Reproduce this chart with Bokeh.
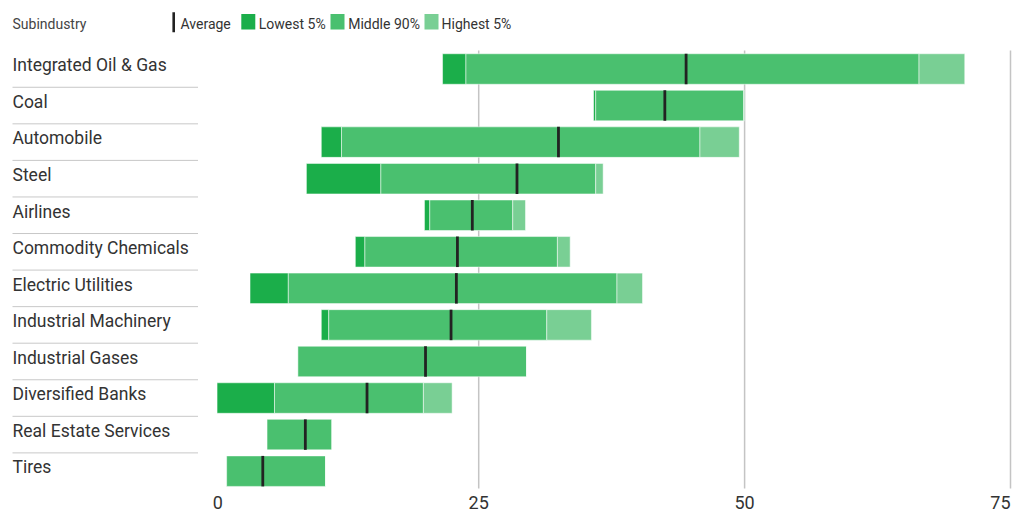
from bokeh.plotting import figure
from bokeh.models import Range1d, ColumnDataSource
from bokeh.core.properties import value
from bokeh.embed import file_html
from bokeh.resources import INLINE

# ---------------- data ----------------
categories = ["Integrated Oil & Gas", "Coal", "Automobile", "Steel", "Airlines",
              "Commodity Chemicals", "Electric Utilities", "Industrial Machinery",
              "Industrial Gases", "Diversified Banks", "Real Estate Services", "Tires"]
low_start = [21.6, 35.8, 10.2, 8.8, 19.9, 13.4, 3.5, 10.2, 8.0, 0.4, 5.1, 1.3]
low_end   = [23.8, 36.0, 12.1, 15.8, 20.4, 14.3, 7.1, 10.9, 8.0, 5.8, 5.1, 1.3]
mid_end   = [66.4, 49.9, 45.8, 36.0, 28.2, 32.4, 38.0, 31.4, 29.5, 19.8, 11.2, 10.6]
high_end  = [70.7, 50.0, 49.5, 36.7, 29.4, 33.6, 40.4, 35.6, 29.5, 22.5, 11.2, 10.6]
average   = [44.5, 42.5, 32.5, 28.6, 24.4, 23.0, 22.9, 22.4, 20.0, 14.5, 8.7, 4.7]
tick_values = [0, 25, 50, 75]
tick_labels = ["0", "25", "50", "75"]
legend_labels = ["Average", "Lowest 5%", "Middle 90%", "Highest 5%"]
header = "Subindustry"

# ---------------- style ----------------
C_LOW, C_MID, C_HIGH, C_AVG = "#1bae4a", "#4ac06f", "#79cf94", "#222222"
TXT = "#333333"
FONT = "Roboto"
W, H = 1014, 511

# pixel geometry (canvas coords)
X0_PX, K = 212.3, (1010.0 - 212.3) / 75.0      # x=0 position, px per unit
ROW0_PX, PITCH = 68.5, 36.56                   # first row centre, row pitch

def px2x(px):
    return (px - X0_PX) / K

def py2y(py):
    return -(py - ROW0_PX) / PITCH

p = figure(width=W, height=H, output_backend="svg", toolbar_location=None,
           x_range=Range1d(px2x(0), px2x(W)),
           y_range=Range1d(py2y(H), py2y(0)),
           min_border=0, min_border_left=0, min_border_right=0,
           min_border_top=0, min_border_bottom=0)
p.axis.visible = False
p.grid.visible = False
p.outline_line_color = None
p.background_fill_color = "white"
p.border_fill_color = "white"

n = len(categories)
rows = [-i for i in range(n)]
BAR_H = 30.5 / PITCH

# gridlines (behind bars)
grid_x = tick_values[1:]
p.segment(x0=grid_x, x1=grid_x, y0=[py2y(50)] * len(grid_x), y1=[py2y(488)] * len(grid_x),
          line_color="#c4c4c4", line_width=1.5)

src = ColumnDataSource(dict(y=rows, ls=low_start, le=low_end, me=mid_end, he=high_end,
                            avg=average, cat=categories))
edge = dict(line_color="white", line_width=1, line_alpha=0.5)
p.hbar(y="y", left="ls", right="le", height=BAR_H, fill_color=C_LOW, source=src, **edge)
p.hbar(y="y", left="le", right="me", height=BAR_H, fill_color=C_MID, source=src, **edge)
p.hbar(y="y", left="me", right="he", height=BAR_H, fill_color=C_HIGH, source=src, **edge)
p.rect(x="avg", y="y", width=2.8, width_units="screen", height=BAR_H,
       fill_color=C_AVG, line_color=None, source=src)

# category labels and separators
p.text(x=[px2x(12)] * n, y=[r + 3.7 / PITCH for r in rows], text=categories,
       text_font=value(FONT), text_font_size="17.5px", text_color=TXT,
       text_baseline="middle", text_align="left")
sep_y = [r - 0.5 for r in rows[:-1]]
p.segment(x0=[px2x(12)] * len(sep_y), x1=[px2x(197.5)] * len(sep_y), y0=sep_y, y1=sep_y,
          line_color="#c8c8c8", line_width=1)

# x tick labels
aligns = ["left", "center", "center", "right"]
p.text(x=tick_values, y=[py2y(501.5)] * len(tick_values), text=tick_labels,
       text_font=value(FONT), text_font_size="18px", text_color=TXT,
       text_baseline="middle", text_align=aligns)

# header + legend
ymid = py2y(23.0)
p.text(x=[px2x(12)], y=[ymid], text=[header], text_font=value(FONT),
       text_font_size="14px", text_color="#444444", text_baseline="middle")
p.rect(x=[px2x(173.2)], y=[py2y(21.7)], width=2.6, height=20, width_units="screen",
       height_units="screen", fill_color=C_AVG, line_color=None)
sq_px = [247.8, 337.0, 431.0]
sq_cols = [C_LOW, C_MID, C_HIGH]
p.rect(x=[px2x(v) for v in sq_px], y=[py2y(21.2)] * 3, width=14, height=15.5,
       width_units="screen", height_units="screen", fill_color=sq_cols, line_color=None)
lx_px = [180.0, 258.3, 347.7, 441.0]
p.text(x=[px2x(v) for v in lx_px], y=[ymid] * 4, text=legend_labels,
       text_font=value(FONT), text_font_size="14px", text_color=TXT,
       text_baseline="middle", text_align="left")

open("out.html", "w").write(file_html(p, INLINE))
